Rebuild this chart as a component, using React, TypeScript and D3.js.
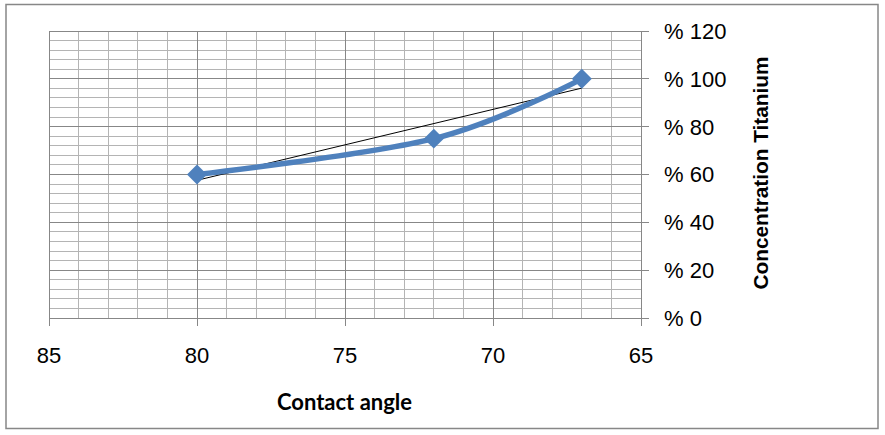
import React from "react";
import * as d3 from "d3";

// data
const contactAngle = [80, 72, 67];
const concentration = [60, 75, 100];
const xTicks = [85, 80, 75, 70, 65];
const yTicks = [0, 20, 40, 60, 80, 100, 120];

const width = 885;
const height = 435;
const plot = { left: 49, right: 641, top: 31, bottom: 318 };

const App = () => {
  const xScale = d3.scaleLinear([85, 65], [plot.left, plot.right]);
  const yScale = d3.scaleLinear([0, 120], [plot.bottom, plot.top]);

  // minor grid: 1 unit on x, 4 units on y
  const xMinor = d3.range(65, 86, 1);
  const yMinor = d3.range(0, 121, 4);

  const pts: [number, number][] = contactAngle.map((x, i) => [x, concentration[i]]);

  const line = d3.line<[number, number]>()
    .x(d => xScale(d[0]))
    .y(d => yScale(d[1]))
    .curve(d3.curveCardinal.tension(0));

  // linear trendline (least squares)
  const mx = d3.mean(contactAngle) as number;
  const my = d3.mean(concentration) as number;
  const sxy = d3.sum(pts, d => (d[0] - mx) * (d[1] - my));
  const sxx = d3.sum(contactAngle, x => (x - mx) * (x - mx));
  const slope = sxy / sxx;
  const fit = (x: number) => my + slope * (x - mx);
  const xExt = d3.extent(contactAngle) as [number, number];

  const diamond = d3.symbol(d3.symbolSquare, 200)();

  const minorColor = "#b4b4b4";
  const majorColor = "#878787";

  return (
    <svg width={width} height={height} style={{ position: "absolute", left: 0, top: 0, background: "#fff" }}>
      <rect x={6} y={4.5} width={872} height={424} fill="#fff" stroke={majorColor} strokeWidth={1.5} />

      {/* minor grid */}
      <g stroke={minorColor} strokeWidth={1} shapeRendering="crispEdges">
        {xMinor.filter(v => v % 5 !== 0).map(v => (
          <line key={"vx" + v} x1={xScale(v)} x2={xScale(v)} y1={plot.top} y2={plot.bottom} />
        ))}
        {yMinor.filter(v => v % 20 !== 0).map(v => (
          <line key={"hy" + v} x1={plot.left} x2={plot.right} y1={yScale(v)} y2={yScale(v)} />
        ))}
      </g>

      {/* major grid + axes */}
      <g stroke={majorColor} strokeWidth={1} shapeRendering="crispEdges">
        {xTicks.map(v => (
          <line key={"mx" + v} x1={xScale(v)} x2={xScale(v)} y1={plot.top} y2={plot.bottom + 8} />
        ))}
        {yTicks.map(v => (
          <line key={"my" + v} x1={plot.left} x2={plot.right + 8} y1={yScale(v)} y2={yScale(v)} />
        ))}
      </g>

      {/* trendline */}
      <line
        x1={xScale(xExt[1])} y1={yScale(fit(xExt[1]))}
        x2={xScale(xExt[0])} y2={yScale(fit(xExt[0]))}
        stroke="#000" strokeWidth={1}
      />

      {/* series */}
      <path d={line(pts) || ""} fill="none" stroke="#4f81bd" strokeWidth={5.5} strokeLinejoin="round" />
      {pts.map((d, i) => (
        <path key={i} d={diamond || ""} fill="#4f81bd"
          transform={`translate(${xScale(d[0])},${yScale(d[1])}) rotate(45)`} />
      ))}

      {/* tick labels */}
      <g fontFamily="'Liberation Sans', Arial, sans-serif" fontSize={22} fill="#000">
        {xTicks.map(v => (
          <text key={"tx" + v} x={xScale(v)} y={363} textAnchor="middle">{v}</text>
        ))}
        {yTicks.map(v => (
          <text key={"ty" + v} x={664} y={yScale(v)} dy="0.36em">{`% ${v}`}</text>
        ))}
      </g>

      {/* axis titles */}
      <text x={344.5} y={410} textAnchor="middle" fontFamily="Lato, 'Open Sans', sans-serif"
        fontWeight="bold" fontSize={22}>Contact angle</text>
      <text transform="translate(768,173) rotate(-90)" textAnchor="middle"
        fontFamily="'Liberation Sans', Arial, sans-serif" fontWeight="bold" fontSize={20.8}>
        Concentration Titanium
      </text>
    </svg>
  );
};

export default App;
